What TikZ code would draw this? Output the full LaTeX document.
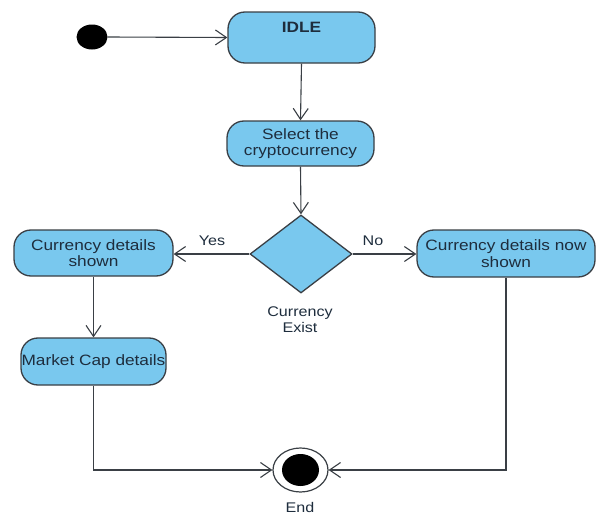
\documentclass[tikz,border=0pt]{standalone}
\usepackage{fontspec}
\setmainfont{Liberation Sans}[FakeStretch=1.15]
\usetikzlibrary{arrows.meta,shapes.geometric}
\definecolor{boxfill}{HTML}{79C8EE}
\definecolor{edgecol}{HTML}{3A3F45}
\definecolor{txtcol}{HTML}{1E2D3D}
\tikzset{
  statebox/.style={draw=edgecol, line width=1.3pt, fill=boxfill, rounded corners=17pt,
    align=center, inner sep=0pt, text=txtcol, font=\fontsize{15}{16.5}\selectfont},
  conn/.style={draw=edgecol, line width=1.1pt, -{Straight Barb[length=11pt,width=15pt,line width=1.1pt]}},
  lbl/.style={text=txtcol, font=\fontsize{14}{16}\selectfont, inner sep=0pt}
}
\begin{document}
\begin{tikzpicture}[x=1pt,y=-1pt]
\useasboundingbox (0,0) rectangle (598,514);
\fill[white] (0,0) rectangle (598,514);
\node[ellipse, fill=black, minimum width=31pt, minimum height=25pt, inner sep=0pt] (start) at (92,37) {};
\node[statebox, minimum width=147pt, minimum height=51pt,
  label={[anchor=center, yshift=-16pt, text=txtcol, font=\fontsize{15}{16}\selectfont\bfseries]north:IDLE}] (idle) at (301.5,37.5) {};
\node[statebox, minimum width=147pt, minimum height=45pt] (select) at (300.5,143.5) {Select the\\cryptocurrency};
\node[diamond, draw=edgecol, line width=1.3pt, fill=boxfill, shape aspect=1.31, minimum width=102pt, minimum height=78pt, inner sep=0pt] (dec) at (301,254) {};
\node[statebox, minimum width=159pt, minimum height=46pt] (cds) at (93.5,253) {Currency details\\shown};
\node[statebox, minimum width=145pt, minimum height=47pt] (mc) at (93.5,361.5) {Market Cap details};
\node[statebox, minimum width=178pt, minimum height=47pt] (cdn) at (506,253.5) {Currency details now\\shown};
\node[ellipse, draw=edgecol, line width=1.2pt, fill=white, minimum width=55pt, minimum height=44pt, inner sep=0pt] (endo) at (300.5,470) {};
\node[ellipse, fill=black, minimum width=37pt, minimum height=32pt, inner sep=0pt] (endi) at (300.5,470) {};
\node[lbl] (yes) at (212,241) {Yes};
\node[lbl] (no) at (373,241) {No};
\node[lbl, align=center] (exist) at (300,320) {Currency\\Exist};
\node[lbl] (endl) at (300,507) {End};
\draw[conn] (start.east) -- (idle.west);
\draw[conn] (idle.south) -- (select.north);
\draw[conn] (select.south) -- (dec.north);
\draw[conn] (dec.west) -- (dec.west -| cds.east);
\draw[conn] (dec.east) -- (dec.east -| cdn.west);
\draw[conn] (cds.south) -- (mc.north);
\draw[conn] (mc.south) |- (endo.west);
\draw[conn] (cdn.south) |- (endo.east);
\end{tikzpicture}
\end{document}
